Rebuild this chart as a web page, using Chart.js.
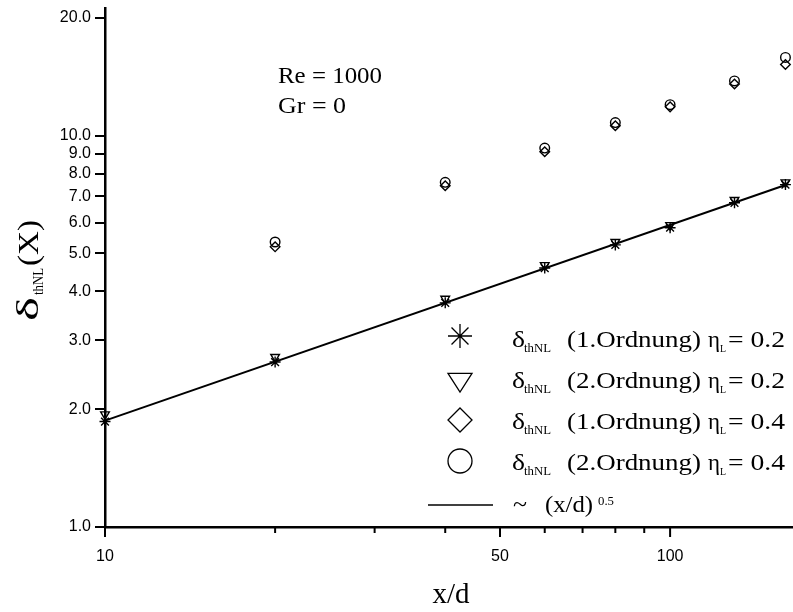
<!DOCTYPE html>
<html>
<head>
<meta charset="utf-8">
<script src="https://cdn.jsdelivr.net/npm/chart.js@4.4.0/dist/chart.umd.min.js"></script>
<style>
  html, body { margin: 0; padding: 0; background: #fff; }
  #wrap { width: 793px; height: 612px; }
</style>
</head>
<body>
<div id="wrap"><canvas id="chart" width="793" height="612"></canvas></div>
<script>
// x/d positions of the computed points
const xPos = [10, 20, 40, 60, 80, 100, 130, 160];
// delta_thNL values per series
const ord1Eta02 = [1.86, 2.64, 3.74, 4.59, 5.26, 5.82, 6.74, 7.50];
const ord2Eta02 = [1.94, 2.72, 3.83, 4.67, 5.35, 5.91, 6.85, 7.60];
const ord1Eta04 = [null, 5.20, 7.45, 9.10, 10.6, 11.85, 13.55, 15.2];
const ord2Eta04 = [null, 5.35, 7.60, 9.30, 10.8, 12.0, 13.8, 15.85];
// ~ (x/d)^0.5 reference line (end points)
const fitX = [10, 160];
const fitY = [1.87, 7.48];
// axis ticks
const yTicks = [1, 2, 3, 4, 5, 6, 7, 8, 9, 10, 20];
const xTicks = [10, 20, 30, 40, 50, 60, 70, 80, 90, 100];
const xLabeled = [10, 50, 100];

const SERIF = '"Liberation Serif", "Times New Roman", serif';
const SANS = '"Liberation Sans", Arial, sans-serif';

function pts(ys) {
  const out = [];
  ys.forEach((y, i) => { if (y !== null) out.push({ x: xPos[i], y: y }); });
  return out;
}

function marker(style, r, rot) {
  return {
    showLine: false,
    pointStyle: style,
    pointRadius: r,
    pointHoverRadius: r,
    rotation: rot || 0,
    pointBorderColor: '#000',
    pointBackgroundColor: 'rgba(0,0,0,0)',
    pointBorderWidth: 1.4,
    clip: false
  };
}

// draw text, optionally stretched to a given width
function txt(ctx, s, x, y, size, family, w) {
  ctx.save();
  ctx.font = size + 'px ' + family;
  ctx.textBaseline = 'alphabetic';
  ctx.textAlign = 'left';
  const m = ctx.measureText(s).width;
  ctx.translate(x, y);
  if (w) ctx.scale(w / m, 1);
  ctx.fillText(s, 0, 0);
  ctx.restore();
  return w || m;
}

function symbol(ctx, style, x, y, r) {
  ctx.save();
  ctx.strokeStyle = '#000';
  ctx.lineWidth = 1.3;
  ctx.beginPath();
  if (style === 'star') {
    for (let k = 0; k < 4; k++) {
      const a = k * Math.PI / 4;
      ctx.moveTo(x - r * Math.sin(a), y - r * Math.cos(a));
      ctx.lineTo(x + r * Math.sin(a), y + r * Math.cos(a));
    }
  } else if (style === 'tri') {
    ctx.moveTo(x - r, y - r * 0.55);
    ctx.lineTo(x + r, y - r * 0.55);
    ctx.lineTo(x, y + r * 1.0);
    ctx.closePath();
  } else if (style === 'dia') {
    ctx.moveTo(x, y - r);
    ctx.lineTo(x + r, y);
    ctx.lineTo(x, y + r);
    ctx.lineTo(x - r, y);
    ctx.closePath();
  } else {
    ctx.arc(x, y, r, 0, Math.PI * 2);
  }
  ctx.stroke();
  ctx.restore();
}

const decor = {
  id: 'decor',
  afterDraw(chart) {
    const ctx = chart.ctx;
    const xs = chart.scales.x;
    const base = chart.chartArea.bottom;
    ctx.save();
    ctx.fillStyle = '#000';
    ctx.strokeStyle = '#000';

    // x ticks (major longer)
    ctx.lineWidth = 2;
    xTicks.forEach(v => {
      const px = xs.getPixelForValue(v);
      const len = xLabeled.includes(v) ? 10 : 6;
      ctx.beginPath();
      ctx.moveTo(px, base);
      ctx.lineTo(px, base + len);
      ctx.stroke();
    });

    // x title
    ctx.save();
    ctx.font = '29px ' + SERIF;
    const wx = ctx.measureText('x/d').width;
    ctx.restore();
    txt(ctx, 'x/d', 451 - wx / 2, 603, 29, SERIF);

    // y title (rotated)
    ctx.save();
    ctx.translate(38, 321);
    ctx.rotate(-Math.PI / 2);
    let t = txt(ctx, 'δ', 0, 0, 31, SERIF, 24);
    t += 2;
    t += txt(ctx, 'thNL', t, 5, 14, SERIF, 27);
    t += 2;
    txt(ctx, '(X)', t, 0, 30, SERIF, 46);
    ctx.restore();

    // annotation
    txt(ctx, 'Re = 1000', 278, 83, 24, SERIF, 104);
    txt(ctx, 'Gr = 0', 278, 113, 24, SERIF, 68);

    // legend
    const rows = [
      { sym: 'star', ord: '(1.Ordnung)', eta: '= 0.2', y: 347, cy: 336 },
      { sym: 'tri', ord: '(2.Ordnung)', eta: '= 0.2', y: 388, cy: 380 },
      { sym: 'dia', ord: '(1.Ordnung)', eta: '= 0.4', y: 429, cy: 420 },
      { sym: 'circ', ord: '(2.Ordnung)', eta: '= 0.4', y: 470, cy: 461 }
    ];
    rows.forEach(r => {
      symbol(ctx, r.sym, 460, r.cy, 12);
      txt(ctx, 'δ', 512, r.y, 24, SERIF, 13);
      txt(ctx, 'thNL', 524, r.y + 5, 12, SERIF, 27);
      txt(ctx, r.ord, 567, r.y, 24, SERIF, 134);
      txt(ctx, 'η', 708, r.y, 24, SERIF, 12);
      txt(ctx, 'L', 720, r.y + 5, 11, SERIF, 6);
      txt(ctx, r.eta, 728, r.y, 24, SERIF, 57);
    });
    ctx.lineWidth = 1.5;
    ctx.beginPath();
    ctx.moveTo(428, 505);
    ctx.lineTo(493, 505);
    ctx.stroke();
    txt(ctx, '~', 513, 512, 24, SERIF, 14);
    txt(ctx, '(x/d)', 545, 512, 24, SERIF, 48);
    txt(ctx, '0.5', 598, 505, 12, SERIF, 16);

    ctx.restore();
  }
};

function noPad(s) {
  s.paddingLeft = 0; s.paddingRight = 0; s.paddingTop = 0; s.paddingBottom = 0;
}

const chart = new Chart(document.getElementById('chart'), {
  type: 'scatter',
  data: {
    datasets: [
      Object.assign({ label: 'δthNL (1.Ordnung) ηL= 0.2', data: pts(ord1Eta02) }, marker('star', 5.5)),
      Object.assign({ label: 'δthNL (2.Ordnung) ηL= 0.2', data: pts(ord2Eta02) }, marker('triangle', 5, 180)),
      Object.assign({ label: 'δthNL (1.Ordnung) ηL= 0.4', data: pts(ord1Eta04) }, marker('rectRot', 4.8)),
      Object.assign({ label: 'δthNL (2.Ordnung) ηL= 0.4', data: pts(ord2Eta04) }, marker('circle', 4.8)),
      {
        label: '~ (x/d)^0.5',
        data: fitX.map((x, i) => ({ x: x, y: fitY[i] })),
        showLine: true,
        borderColor: '#000',
        borderWidth: 2,
        pointRadius: 0,
        clip: false
      }
    ]
  },
  options: {
    responsive: false,
    animation: false,
    layout: { autoPadding: false, padding: { top: 8, right: 0, left: 0, bottom: 0 } },
    plugins: { legend: { display: false }, tooltip: { enabled: false } },
    scales: {
      x: {
        type: 'logarithmic',
        min: 10,
        max: 165,
        afterBuildTicks: s => { s.ticks = xTicks.map(v => ({ value: v })); },
        afterFit: s => { s.height = 85; noPad(s); },
        ticks: {
          autoSkip: false,
          maxRotation: 0,
          padding: 20,
          color: '#000',
          font: { family: SANS, size: 16 },
          callback: v => xLabeled.includes(v) ? String(v) : ''
        },
        grid: { display: false, drawTicks: false, tickLength: 0 },
        border: { display: true, color: '#000', width: 2.5 }
      },
      y: {
        type: 'logarithmic',
        min: 1,
        max: 21.2,
        afterBuildTicks: s => { s.ticks = yTicks.map(v => ({ value: v })); },
        afterFit: s => { s.width = 105; noPad(s); },
        ticks: {
          autoSkip: false,
          padding: 4,
          color: '#000',
          font: { family: SANS, size: 16 },
          callback: v => Number(v).toFixed(1)
        },
        grid: { display: true, drawOnChartArea: false, drawTicks: true, tickLength: 10, color: '#000', lineWidth: 2 },
        border: { display: true, color: '#000', width: 2.5 }
      }
    }
  },
  plugins: [decor]
});
</script>
</body>
</html>
